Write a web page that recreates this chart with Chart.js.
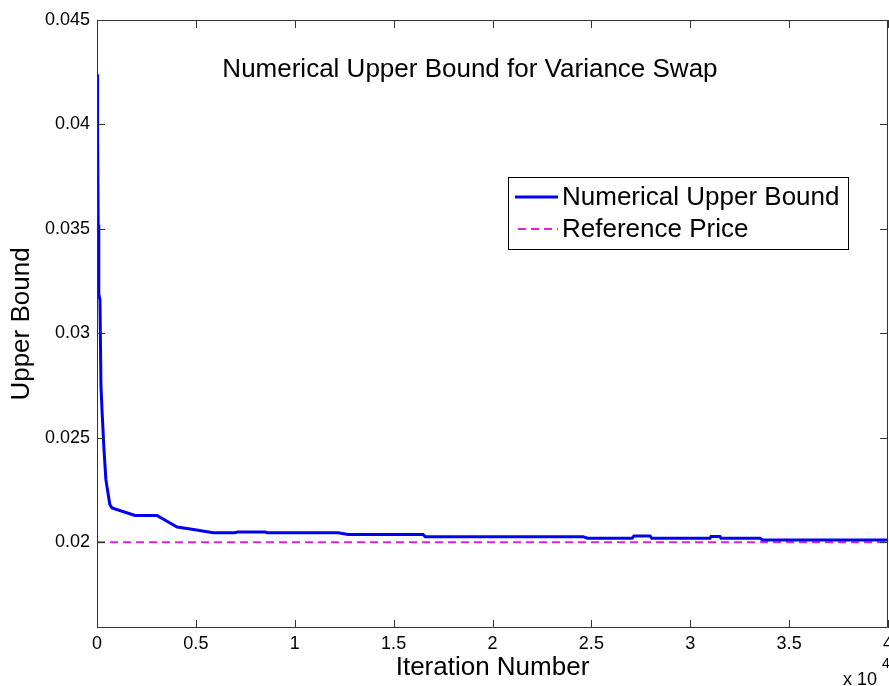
<!DOCTYPE html>
<html>
<head>
<meta charset="utf-8">
<script src="https://cdn.jsdelivr.net/npm/chart.js@4.4.1/dist/chart.umd.min.js"></script>
<style>
  html, body { margin: 0; padding: 0; background: #fff; }
  #wrap { width: 889px; height: 686px; }
</style>
</head>
<body>
<div id="wrap"><canvas id="c" width="889" height="686"></canvas></div>
<script>
// ---- data ----
const iterations = [0, 20, 40, 60, 80, 100, 150, 200, 260, 350, 450, 550, 650, 760, 1920, 3030, 4050, 4960, 5870, 6980, 7100, 8500, 8600, 12190, 12700, 16490, 16600, 24580, 24800, 27060, 27150, 27970, 28050, 31000, 31050, 31500, 31550, 33530, 33650, 40000];
const upperBound = [0.0424, 0.0397, 0.0395, 0.0352, 0.0350, 0.0319, 0.0316, 0.0275, 0.0262, 0.0245, 0.0230, 0.0224, 0.0218, 0.02165, 0.02129, 0.02129, 0.02073, 0.0206, 0.02046, 0.02046, 0.0205, 0.0205, 0.02046, 0.02046, 0.02038, 0.02038, 0.02027, 0.02027, 0.0202, 0.0202, 0.0203, 0.0203, 0.0202, 0.0202, 0.02028, 0.02028, 0.0202, 0.0202, 0.02011, 0.02011];
const referenceIter = [0, 40000];
const referencePrice = [0.02, 0.02];
const xTickValues = [0, 5000, 10000, 15000, 20000, 25000, 30000, 35000, 40000];
const xTickLabels = ['0', '0.5', '1', '1.5', '2', '2.5', '3', '3.5', '4'];
const yTickValues = [0.02, 0.025, 0.03, 0.035, 0.04, 0.045];
const yTickLabels = ['0.02', '0.025', '0.03', '0.035', '0.04', '0.045'];
const seriesNames = ['Numerical Upper Bound', 'Reference Price'];
const chartTitle = 'Numerical Upper Bound for Variance Swap';
const xTitle = 'Iteration Number';
const yTitle = 'Upper Bound';
const xExponent = '4';

const FONT = "'Liberation Sans', Arial, Helvetica, sans-serif";
const AXIS_COLOR = '#333';

const boxAndTicks = {
  id: 'boxAndTicks',
  afterDatasetsDraw(chart) {
    const ctx = chart.ctx, a = chart.chartArea;
    const xs = chart.scales.x, ys = chart.scales.y;
    const L = 8;
    ctx.save();
    ctx.strokeStyle = AXIS_COLOR;
    ctx.lineWidth = 1;
    ctx.beginPath();
    ctx.rect(a.left + 0.5, a.top + 0.5, a.right - a.left - 1, a.bottom - a.top - 1);
    xs.ticks.forEach(t => {
      const px = Math.round(xs.getPixelForValue(t.value)) + 0.5;
      ctx.moveTo(px, a.bottom); ctx.lineTo(px, a.bottom - L);
      ctx.moveTo(px, a.top); ctx.lineTo(px, a.top + L);
    });
    ys.ticks.forEach(t => {
      const py = Math.round(ys.getPixelForValue(t.value)) + 0.5;
      ctx.moveTo(a.left, py); ctx.lineTo(a.left + L, py);
      ctx.moveTo(a.right, py); ctx.lineTo(a.right - L, py);
    });
    ctx.stroke();
    ctx.restore();
  },
  afterDraw(chart) {
    const ctx = chart.ctx, a = chart.chartArea;
    ctx.save();
    // title inside the axes
    ctx.fillStyle = '#000';
    ctx.font = '26px ' + FONT;
    ctx.textAlign = 'center';
    ctx.textBaseline = 'middle';
    ctx.fillText(chartTitle, a.left + (a.right - a.left) * 0.4715, a.top + 50);
    // exponent label
    ctx.textAlign = 'left';
    ctx.textBaseline = 'alphabetic';
    ctx.font = '18px ' + FONT;
    ctx.fillText('x 10', a.right - 45, chart.height - 1);
    ctx.font = '14px ' + FONT;
    ctx.fillText(xExponent, a.right - 6, chart.height - 18);
    // legend
    const lx = 508.5, ly = 177.5, lw = 340, lh = 72;
    ctx.fillStyle = '#fff';
    ctx.fillRect(lx, ly, lw, lh);
    ctx.strokeStyle = '#000';
    ctx.lineWidth = 1;
    ctx.strokeRect(lx, ly, lw, lh);
    const rows = [197, 229];
    chart.data.datasets.forEach((ds, i) => {
      ctx.beginPath();
      ctx.strokeStyle = ds.borderColor;
      ctx.lineWidth = ds.borderWidth;
      ctx.setLineDash(ds.borderDash || []);
      ctx.moveTo(i === 0 ? 515 : 518, rows[i]);
      ctx.lineTo(558, rows[i]);
      ctx.stroke();
      ctx.setLineDash([]);
      ctx.fillStyle = '#000';
      ctx.font = '26px ' + FONT;
      ctx.textBaseline = 'middle';
      ctx.fillText(ds.label, 562, rows[i] + 1);
    });
    ctx.restore();
  }
};

new Chart(document.getElementById('c'), {
  type: 'scatter',
  data: {
    datasets: [
      {
        label: seriesNames[0],
        data: iterations.map((x, i) => ({ x: x, y: upperBound[i] })),
        showLine: true,
        borderColor: '#0000f0',
        backgroundColor: '#0000f0',
        borderWidth: 3,
        pointRadius: 0,
        tension: 0,
        order: 1
      },
      {
        label: seriesNames[1],
        data: referenceIter.map((x, i) => ({ x: x, y: referencePrice[i] })),
        showLine: true,
        borderColor: '#dd22dd',
        backgroundColor: '#dd22dd',
        borderWidth: 2,
        borderDash: [8, 5],
        pointRadius: 0,
        tension: 0,
        order: 2
      }
    ]
  },
  options: {
    responsive: false,
    animation: false,
    devicePixelRatio: 1,
    layout: { padding: { top: 20, right: 1, left: 0, bottom: 0 } },
    plugins: {
      legend: { display: false },
      tooltip: { enabled: false },
      title: { display: false }
    },
    scales: {
      x: {
        type: 'linear',
        min: 0,
        max: 40000,
        grid: { display: false, drawTicks: false },
        border: { display: false },
        afterBuildTicks: s => { s.ticks = xTickValues.map(v => ({ value: v })); },
        afterFit: s => { s.height = 58; s.paddingLeft = 0; s.paddingRight = 0; },
        ticks: {
          padding: 5,
          color: '#000',
          maxRotation: 0,
          autoSkip: false,
          font: { family: FONT, size: 18 },
          callback: (v) => { const i = xTickValues.indexOf(v); return i >= 0 ? xTickLabels[i] : ''; }
        },
        title: {
          display: true,
          text: xTitle,
          color: '#000',
          font: { family: FONT, size: 26 },
          padding: { top: 0, bottom: 3 }
        }
      },
      y: {
        type: 'linear',
        min: 0.0159,
        max: 0.045,
        grid: { display: false, drawTicks: false },
        border: { display: false },
        afterBuildTicks: s => { s.ticks = yTickValues.map(v => ({ value: v })); },
        afterFit: s => { s.width = 97; s.paddingTop = 0; s.paddingBottom = 0; },
        ticks: {
          padding: 7,
          color: '#000',
          autoSkip: false,
          font: { family: FONT, size: 18 },
          callback: (v) => { const i = yTickValues.findIndex(t => Math.abs(t - v) < 1e-9); return i >= 0 ? yTickLabels[i] : ''; }
        },
        title: {
          display: true,
          text: yTitle,
          color: '#000',
          font: { family: FONT, size: 26 },
          padding: { top: 6, bottom: 0 }
        }
      }
    }
  },
  plugins: [boxAndTicks]
});
</script>
</body>
</html>
